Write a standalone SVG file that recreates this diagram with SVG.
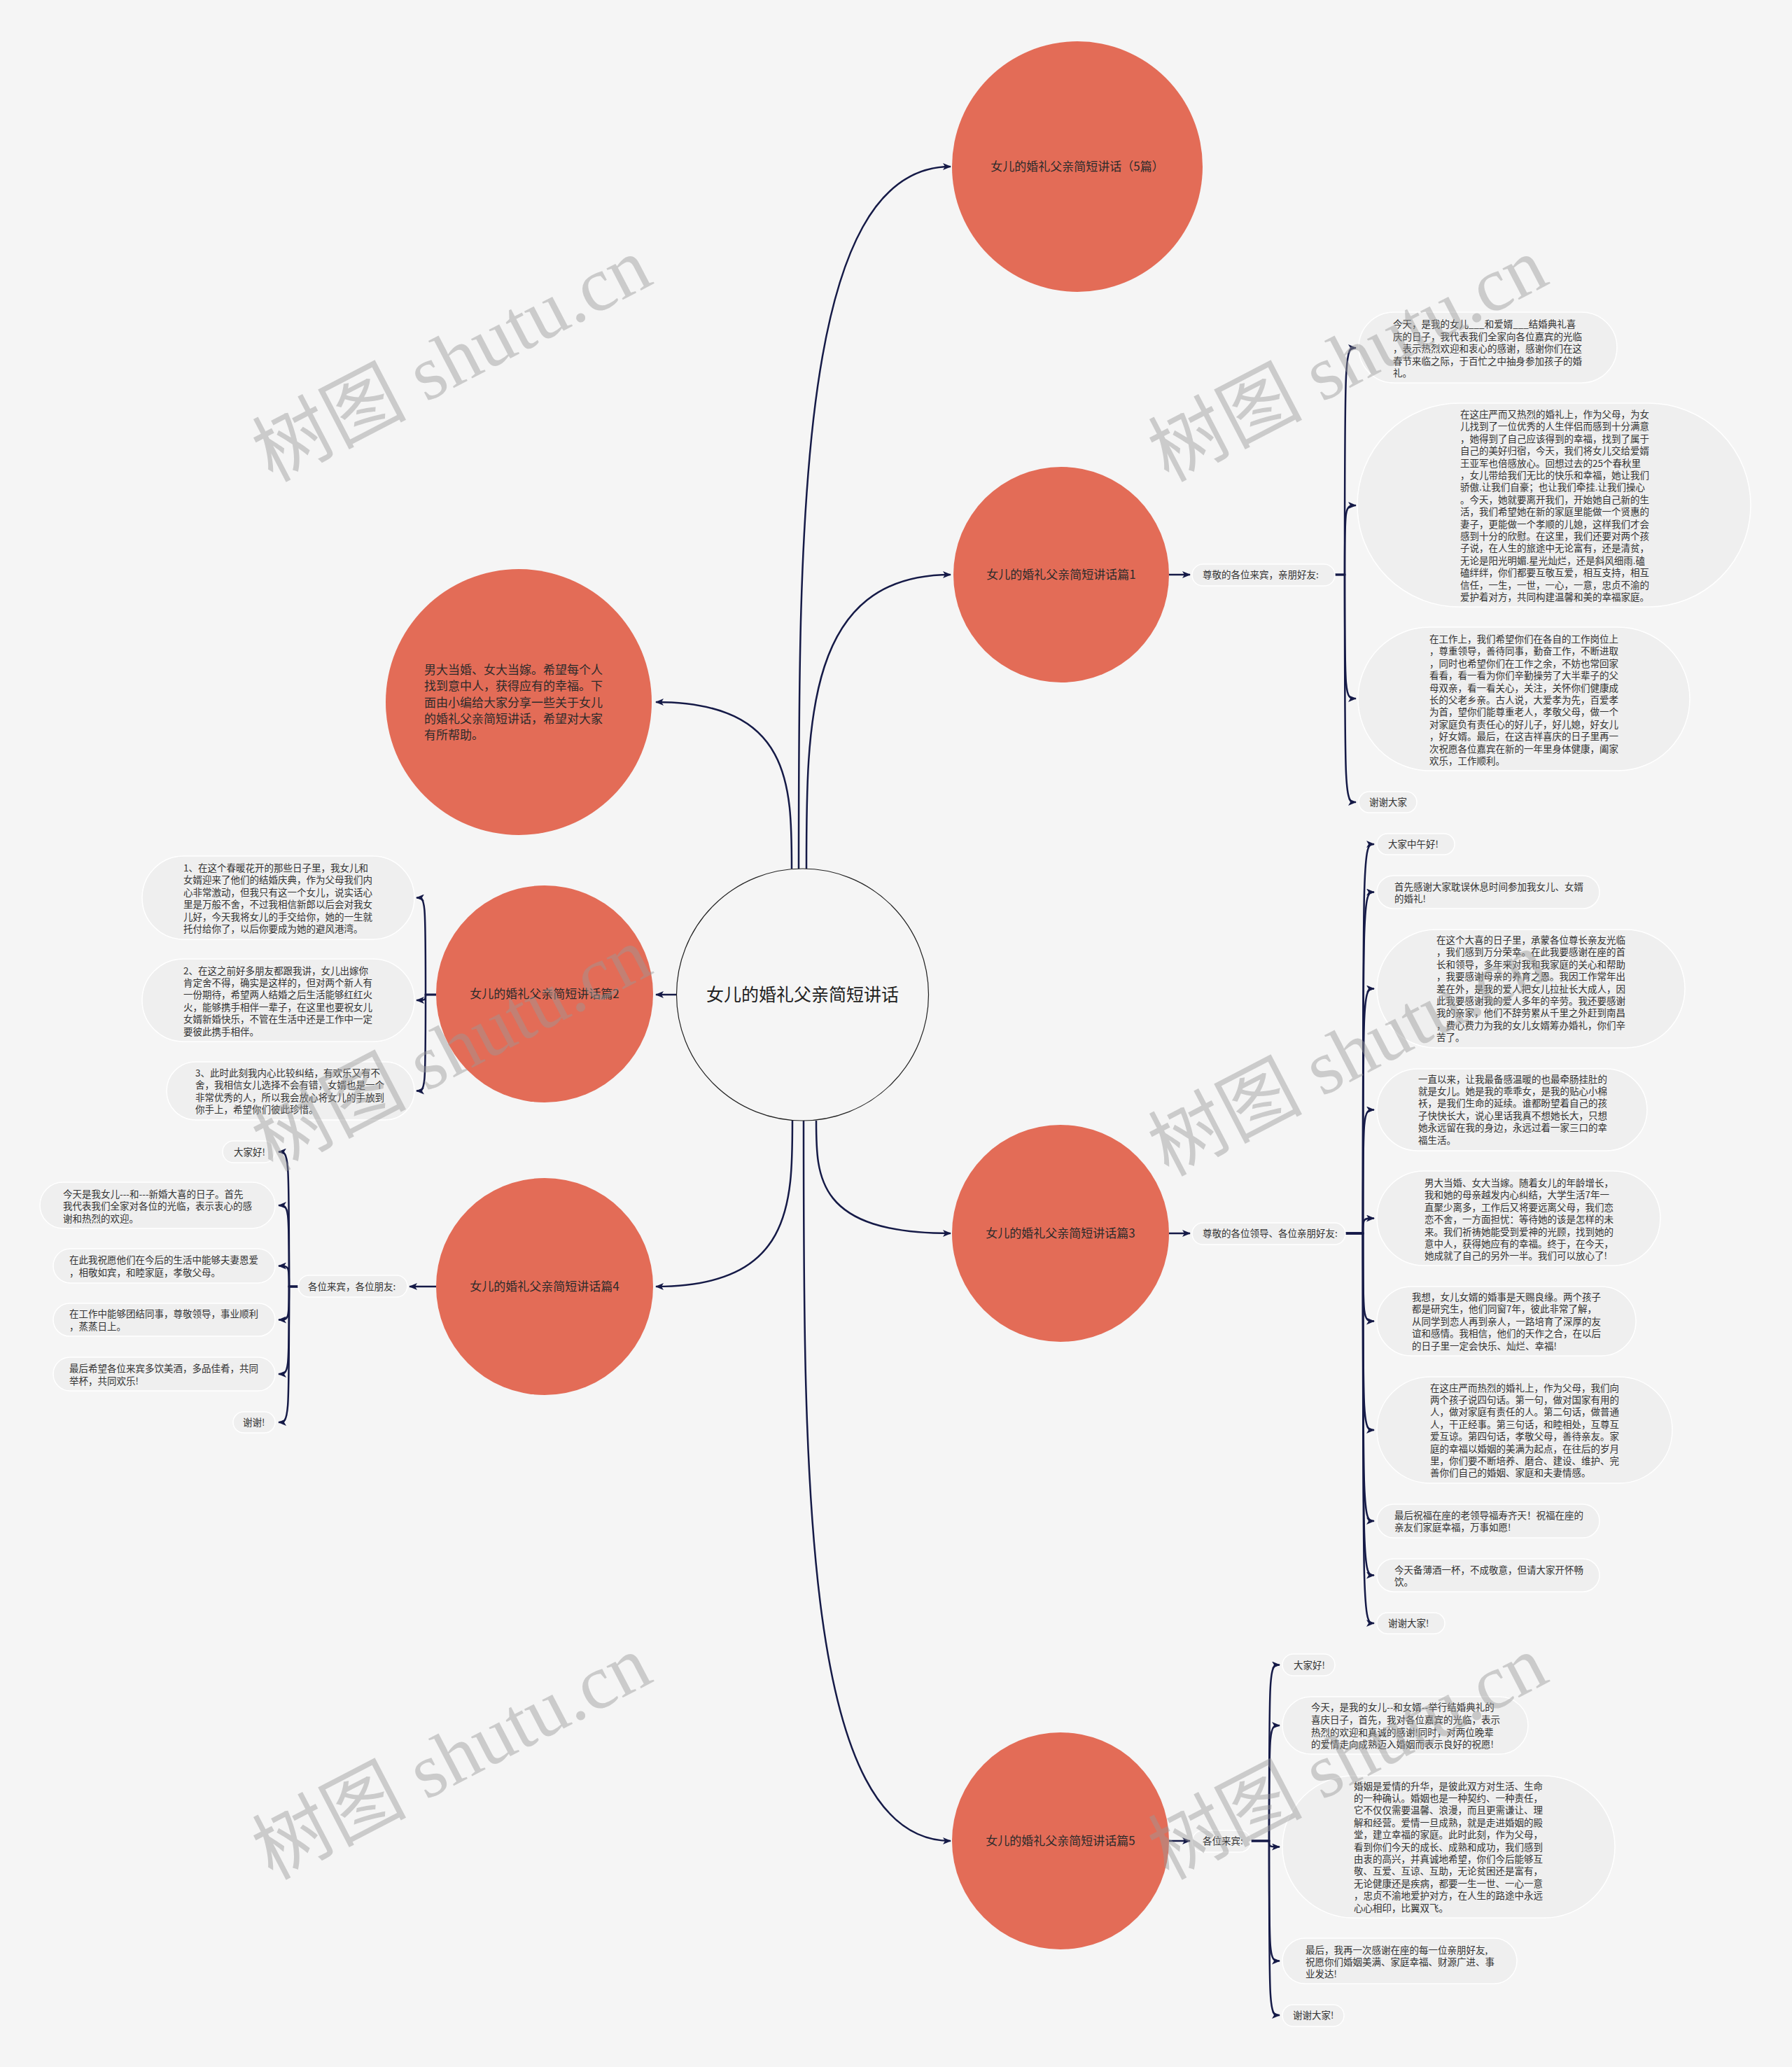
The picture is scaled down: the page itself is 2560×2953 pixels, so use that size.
<svg xmlns="http://www.w3.org/2000/svg" width="2560" height="2953" viewBox="0 0 2560 2953">
<style>
.bg{fill:#f5f5f5}
.c{fill:#e36c57}
.ct{font-family:"Noto Sans CJK SC","Liberation Sans",sans-serif;font-size:17px;fill:#2b2b2b}
.cm{text-anchor:middle}
.pill{fill:#efefef;stroke:#ffffff;stroke-width:1.5}
.lt{font-family:"Noto Sans CJK SC","Liberation Sans",sans-serif;font-size:13.5px;fill:#333333}
.cn{fill:none;stroke:#151a47;stroke-width:2.5}
.wm{font-family:"Liberation Serif","Noto Sans CJK SC",serif;font-size:110px;fill:#9a9a9a;fill-opacity:0.45;text-anchor:middle}
</style>
<defs>
<marker id="arr" viewBox="0 0 12 10" refX="11" refY="5" markerWidth="12" markerHeight="10" markerUnits="userSpaceOnUse" orient="auto">
<path d="M0,0 L12,5 L0,10 L3,5 Z" fill="#151a47"/>
</marker>
</defs>
<rect class="bg" x="0" y="0" width="2560" height="2953"/>

<g id="connectors">
<path class="cn" marker-end="url(#arr)" d="M1131,1241 C1131,1122 1131,1003 937,1003"/>
<path class="cn" marker-end="url(#arr)" d="M1141,1241 C1141,740 1141,238 1358,238"/>
<path class="cn" marker-end="url(#arr)" d="M1152,1241 C1152,1031 1152,821 1358,821"/>
<path class="cn" marker-end="url(#arr)" d="M966,1421 L937,1421"/>
<path class="cn" marker-end="url(#arr)" d="M1132,1601 C1132,1720 1132,1838 937,1838"/>
<path class="cn" marker-end="url(#arr)" d="M1148,1601 C1148,2116 1148,2630 1358,2630"/>
<path class="cn" marker-end="url(#arr)" d="M1166,1601 C1166,1682 1166,1762 1358,1762"/>
<path class="cn" marker-end="url(#arr)" d="M1670,821 L1700,821"/>
<path class="cn" marker-end="url(#arr)" d="M1670,1762 L1700,1762"/>
<path class="cn" marker-end="url(#arr)" d="M1670,2630 L1700,2630"/>
<path class="cn" marker-end="url(#arr)" d="M623,1838 L585,1838"/>
<!-- bracket 1 -->
<path class="cn" marker-end="url(#arr)" d="M1907,821 H1921 C1921,497 1921,497 1937,497"/>
<path class="cn" marker-end="url(#arr)" d="M1907,821 H1921 C1921,722 1921,722 1937,722"/>
<path class="cn" marker-end="url(#arr)" d="M1907,821 H1921 C1921,998 1921,998 1937,998"/>
<path class="cn" marker-end="url(#arr)" d="M1907,821 H1921 C1921,1146 1921,1146 1937,1146"/>
<!-- bracket 3 -->
<path class="cn" marker-end="url(#arr)" d="M1922,1762 H1947 C1947,1206 1947,1206 1963,1206"/>
<path class="cn" marker-end="url(#arr)" d="M1922,1762 H1947 C1947,1274.5 1947,1274.5 1963,1274.5"/>
<path class="cn" marker-end="url(#arr)" d="M1922,1762 H1947 C1947,1412.5 1947,1412.5 1963,1412.5"/>
<path class="cn" marker-end="url(#arr)" d="M1922,1762 H1947 C1947,1585.5 1947,1585.5 1963,1585.5"/>
<path class="cn" marker-end="url(#arr)" d="M1922,1762 H1947 C1947,1740.5 1947,1740.5 1963,1740.5"/>
<path class="cn" marker-end="url(#arr)" d="M1922,1762 H1947 C1947,1887.5 1947,1887.5 1963,1887.5"/>
<path class="cn" marker-end="url(#arr)" d="M1922,1762 H1947 C1947,2043 1947,2043 1963,2043"/>
<path class="cn" marker-end="url(#arr)" d="M1922,1762 H1947 C1947,2173 1947,2173 1963,2173"/>
<path class="cn" marker-end="url(#arr)" d="M1922,1762 H1947 C1947,2250.5 1947,2250.5 1963,2250.5"/>
<path class="cn" marker-end="url(#arr)" d="M1922,1762 H1947 C1947,2319 1947,2319 1963,2319"/>
<!-- bracket 5 -->
<path class="cn" marker-end="url(#arr)" d="M1787,2630 H1813 C1813,2378.5 1813,2378.5 1828,2378.5"/>
<path class="cn" marker-end="url(#arr)" d="M1787,2630 H1813 C1813,2465 1813,2465 1828,2465"/>
<path class="cn" marker-end="url(#arr)" d="M1787,2630 H1813 C1813,2638.5 1813,2638.5 1828,2638.5"/>
<path class="cn" marker-end="url(#arr)" d="M1787,2630 H1813 C1813,2801.5 1813,2801.5 1828,2801.5"/>
<path class="cn" marker-end="url(#arr)" d="M1787,2630 H1813 C1813,2879 1813,2879 1828,2879"/>
<!-- bracket 2 -->
<path class="cn" marker-end="url(#arr)" d="M623,1421 H608 C608,1282.5 608,1282.5 595,1282.5"/>
<path class="cn" marker-end="url(#arr)" d="M623,1421 H608 C608,1429 608,1429 595,1429"/>
<path class="cn" marker-end="url(#arr)" d="M623,1421 H608 C608,1558.5 608,1558.5 595,1558.5"/>
<!-- bracket 4 -->
<path class="cn" marker-end="url(#arr)" d="M426,1838 H413 C413,1645.5 413,1645.5 398,1645.5"/>
<path class="cn" marker-end="url(#arr)" d="M426,1838 H413 C413,1722 413,1722 398,1722"/>
<path class="cn" marker-end="url(#arr)" d="M426,1838 H413 C413,1808.5 413,1808.5 398,1808.5"/>
<path class="cn" marker-end="url(#arr)" d="M426,1838 H413 C413,1885.5 413,1885.5 398,1885.5"/>
<path class="cn" marker-end="url(#arr)" d="M426,1838 H413 C413,1963 413,1963 398,1963"/>
<path class="cn" marker-end="url(#arr)" d="M426,1838 H413 C413,2032 413,2032 398,2032"/>
</g>

<g id="center">
<circle cx="1146.5" cy="1421" r="180" fill="#f5f5f5" stroke="#222222" stroke-width="1.2"/>
<text class="ct cm" x="1146.5" y="1430" style="font-size:25px;fill:#222">女儿的婚礼父亲简短讲话</text>
</g>

<g id="intro">
<circle class="c" cx="741" cy="1003" r="190"/>
<text class="ct" x="606" y="963"><tspan x="606">男大当婚、女大当嫁。希望每个人</tspan><tspan x="606" dy="23.3">找到意中人，获得应有的幸福。下</tspan><tspan x="606" dy="23.3">面由小编给大家分享一些关于女儿</tspan><tspan x="606" dy="23.3">的婚礼父亲简短讲话，希望对大家</tspan><tspan x="606" dy="23.3">有所帮助。</tspan></text>
</g>

<g id="title5">
<circle class="c" cx="1539" cy="238" r="179"/>
<text class="ct cm" x="1539" y="244">女儿的婚礼父亲简短讲话（5篇）</text>
</g>

<g id="p1">
<circle class="c" cx="1516" cy="821" r="154"/>
<text class="ct cm" x="1516" y="827">女儿的婚礼父亲简短讲话篇1</text>
</g>
<g id="p1-label">
<rect class="pill" x="1703" y="806" width="204" height="31" rx="15.5"/>
<text class="lt" x="1718" y="826">尊敬的各位来宾，亲朋好友:</text>
</g>
<g id="p1-l1">
<rect class="pill" x="1941" y="446" width="369" height="101" rx="50.5"/>
<text class="lt" x="1990" y="468"><tspan x="1990">今天，是我的女儿___和爱婿___结婚典礼喜</tspan><tspan x="1990" dy="17.5">庆的日子，我代表我们全家向各位嘉宾的光临</tspan><tspan x="1990" dy="17.5">，表示热烈欢迎和衷心的感谢，感谢你们在这</tspan><tspan x="1990" dy="17.5">春节来临之际，于百忙之中抽身参加孩子的婚</tspan><tspan x="1990" dy="17.5">礼。</tspan></text>
</g>
<g id="p1-l2">
<rect class="pill" x="1939" y="576" width="562" height="291" rx="145.5"/>
<text class="lt" x="2086" y="597"><tspan x="2086">在这庄严而又热烈的婚礼上，作为父母，为女</tspan><tspan x="2086" dy="17.4">儿找到了一位优秀的人生伴侣而感到十分满意</tspan><tspan x="2086" dy="17.4">，她得到了自己应该得到的幸福，找到了属于</tspan><tspan x="2086" dy="17.4">自己的美好归宿，今天，我们将女儿交给爱婿</tspan><tspan x="2086" dy="17.4">王亚军也倍感放心。回想过去的25个春秋里</tspan><tspan x="2086" dy="17.4">，女儿带给我们无比的快乐和幸福，她让我们</tspan><tspan x="2086" dy="17.4">骄傲.让我们自豪；也让我们牵挂.让我们操心</tspan><tspan x="2086" dy="17.4">。今天，她就要离开我们，开始她自己新的生</tspan><tspan x="2086" dy="17.4">活，我们希望她在新的家庭里能做一个贤惠的</tspan><tspan x="2086" dy="17.4">妻子，更能做一个孝顺的儿媳，这样我们才会</tspan><tspan x="2086" dy="17.4">感到十分的欣慰。在这里，我们还要对两个孩</tspan><tspan x="2086" dy="17.4">子说，在人生的旅途中无论富有，还是清贫，</tspan><tspan x="2086" dy="17.4">无论是阳光明媚.星光灿烂，还是斜风细雨.磕</tspan><tspan x="2086" dy="17.4">磕绊绊，你们都要互敬互爱，相互支持，相互</tspan><tspan x="2086" dy="17.4">信任，一生，一世，一心，一意，忠贞不渝的</tspan><tspan x="2086" dy="17.4">爱护着对方，共同构建温馨和美的幸福家庭。</tspan></text>
</g>
<g id="p1-l3">
<rect class="pill" x="1940" y="896" width="474" height="205" rx="102.5"/>
<text class="lt" x="2042" y="918"><tspan x="2042">在工作上，我们希望你们在各自的工作岗位上</tspan><tspan x="2042" dy="17.4">，尊重领导，善待同事，勤奋工作，不断进取</tspan><tspan x="2042" dy="17.4">，同时也希望你们在工作之余，不妨也常回家</tspan><tspan x="2042" dy="17.4">看看，看一看为你们辛勤操劳了大半辈子的父</tspan><tspan x="2042" dy="17.4">母双亲，看一看关心，关注，关怀你们健康成</tspan><tspan x="2042" dy="17.4">长的父老乡亲。古人说，大爱孝为先，百爱孝</tspan><tspan x="2042" dy="17.4">为首，望你们能尊重老人，孝敬父母，做一个</tspan><tspan x="2042" dy="17.4">对家庭负有责任心的好儿子，好儿媳，好女儿</tspan><tspan x="2042" dy="17.4">，好女婿。最后，在这吉祥喜庆的日子里再一</tspan><tspan x="2042" dy="17.4">次祝愿各位嘉宾在新的一年里身体健康，阖家</tspan><tspan x="2042" dy="17.4">欢乐，工作顺利。</tspan></text>
</g>
<g id="p1-l4">
<rect class="pill" x="1941" y="1131" width="83" height="30" rx="15"/>
<text class="lt" x="1956" y="1151">谢谢大家</text>
</g>

<g id="p2">
<circle class="c" cx="778" cy="1420" r="155"/>
<text class="ct cm" x="778" y="1426">女儿的婚礼父亲简短讲话篇2</text>
</g>
<g id="p2-l1">
<rect class="pill" x="203" y="1223" width="389" height="119" rx="59.5"/>
<text class="lt" x="262" y="1245"><tspan x="262">1、在这个春暖花开的那些日子里，我女儿和</tspan><tspan x="262" dy="17.4">女婿迎来了他们的结婚庆典，作为父母我们内</tspan><tspan x="262" dy="17.4">心非常激动，但我只有这一个女儿，说实话心</tspan><tspan x="262" dy="17.4">里是万般不舍，不过我相信新郎以后会对我女</tspan><tspan x="262" dy="17.4">儿好，今天我将女儿的手交给你，她的一生就</tspan><tspan x="262" dy="17.4">托付给你了，以后你要成为她的避风港湾。</tspan></text>
</g>
<g id="p2-l2">
<rect class="pill" x="203" y="1370" width="389" height="118" rx="59"/>
<text class="lt" x="262" y="1391.5"><tspan x="262">2、在这之前好多朋友都跟我讲，女儿出嫁你</tspan><tspan x="262" dy="17.4">肯定舍不得，确实是这样的，但对两个新人有</tspan><tspan x="262" dy="17.4">一份期待，希望两人结婚之后生活能够红红火</tspan><tspan x="262" dy="17.4">火，能够携手相伴一辈子，在这里也要祝女儿</tspan><tspan x="262" dy="17.4">女婿新婚快乐，不管在生活中还是工作中一定</tspan><tspan x="262" dy="17.4">要彼此携手相伴。</tspan></text>
</g>
<g id="p2-l3">
<rect class="pill" x="238" y="1517" width="354" height="83" rx="41.5"/>
<text class="lt" x="279" y="1538"><tspan x="279">3、此时此刻我内心比较纠结，有欢乐又有不</tspan><tspan x="279" dy="17.4">舍，我相信女儿选择不会有错，女婿也是一个</tspan><tspan x="279" dy="17.4">非常优秀的人，所以我会放心将女儿的手放到</tspan><tspan x="279" dy="17.4">你手上，希望你们彼此珍惜。</tspan></text>
</g>

<g id="p3">
<circle class="c" cx="1515" cy="1762" r="155"/>
<text class="ct cm" x="1515" y="1768">女儿的婚礼父亲简短讲话篇3</text>
</g>
<g id="p3-label">
<rect class="pill" x="1703" y="1747" width="219" height="31" rx="15.5"/>
<text class="lt" x="1718" y="1767">尊敬的各位领导、各位亲朋好友:</text>
</g>
<g id="p3-l1">
<rect class="pill" x="1967" y="1191" width="111" height="30" rx="15"/>
<text class="lt" x="1983" y="1211">大家中午好!</text>
</g>
<g id="p3-l2">
<rect class="pill" x="1967" y="1251" width="318" height="47" rx="23.5"/>
<text class="lt" x="1992" y="1272"><tspan x="1992">首先感谢大家耽误休息时间参加我女儿、女婿</tspan><tspan x="1992" dy="17.4">的婚礼!</tspan></text>
</g>
<g id="p3-l3">
<rect class="pill" x="1967" y="1328" width="440" height="169" rx="84.5"/>
<text class="lt" x="2052" y="1348"><tspan x="2052">在这个大喜的日子里，承蒙各位尊长亲友光临</tspan><tspan x="2052" dy="17.4">，我们感到万分荣幸。在此我要感谢在座的首</tspan><tspan x="2052" dy="17.4">长和领导，多年来对我和我家庭的关心和帮助</tspan><tspan x="2052" dy="17.4">，我要感谢母亲的养育之恩。我因工作常年出</tspan><tspan x="2052" dy="17.4">差在外，是我的爱人把女儿拉扯长大成人，因</tspan><tspan x="2052" dy="17.4">此我要感谢我的爱人多年的辛劳。我还要感谢</tspan><tspan x="2052" dy="17.4">我的亲家，他们不辞劳累从千里之外赶到南昌</tspan><tspan x="2052" dy="17.4">，费心费力为我的女儿女婿筹办婚礼，你们辛</tspan><tspan x="2052" dy="17.4">苦了。</tspan></text>
</g>
<g id="p3-l4">
<rect class="pill" x="1967" y="1527" width="386" height="117" rx="58.5"/>
<text class="lt" x="2026" y="1546.5"><tspan x="2026">一直以来，让我最备感温暖的也最牵肠挂肚的</tspan><tspan x="2026" dy="17.4">就是女儿。她是我的乖乖女，是我的贴心小棉</tspan><tspan x="2026" dy="17.4">袄，是我们生命的延续。谁都盼望着自己的孩</tspan><tspan x="2026" dy="17.4">子快快长大，说心里话我真不想她长大，只想</tspan><tspan x="2026" dy="17.4">她永远留在我的身边，永远过着一家三口的幸</tspan><tspan x="2026" dy="17.4">福生活。</tspan></text>
</g>
<g id="p3-l5">
<rect class="pill" x="1967" y="1673" width="405" height="135" rx="67.5"/>
<text class="lt" x="2035" y="1695"><tspan x="2035">男大当婚、女大当嫁。随着女儿的年龄增长，</tspan><tspan x="2035" dy="17.4">我和她的母亲越发内心纠结，大学生活7年一</tspan><tspan x="2035" dy="17.4">直聚少离多，工作后又将要远离父母，我们恋</tspan><tspan x="2035" dy="17.4">恋不舍，一方面担忧：等待她的该是怎样的未</tspan><tspan x="2035" dy="17.4">来。我们祈祷她能受到爱神的光顾，找到她的</tspan><tspan x="2035" dy="17.4">意中人，获得她应有的幸福。终于，在今天，</tspan><tspan x="2035" dy="17.4">她成就了自己的另外一半。我们可以放心了!</tspan></text>
</g>
<g id="p3-l6">
<rect class="pill" x="1967" y="1838" width="370" height="99" rx="49.5"/>
<text class="lt" x="2017" y="1858"><tspan x="2017">我想，女儿女婿的婚事是天赐良缘。两个孩子</tspan><tspan x="2017" dy="17.4">都是研究生，他们同窗7年，彼此非常了解，</tspan><tspan x="2017" dy="17.4">从同学到恋人再到亲人，一路培育了深厚的友</tspan><tspan x="2017" dy="17.4">谊和感情。我相信，他们的天作之合，在以后</tspan><tspan x="2017" dy="17.4">的日子里一定会快乐、灿烂、幸福!</tspan></text>
</g>
<g id="p3-l7">
<rect class="pill" x="1967" y="1967" width="422" height="152" rx="76"/>
<text class="lt" x="2043" y="1987.5"><tspan x="2043">在这庄严而热烈的婚礼上，作为父母，我们向</tspan><tspan x="2043" dy="17.4">两个孩子说四句话。第一句，做对国家有用的</tspan><tspan x="2043" dy="17.4">人，做对家庭有责任的人。第二句话，做普通</tspan><tspan x="2043" dy="17.4">人，干正经事。第三句话，和睦相处，互尊互</tspan><tspan x="2043" dy="17.4">爱互谅。第四句话，孝敬父母，善待亲友。家</tspan><tspan x="2043" dy="17.4">庭的幸福以婚姻的美满为起点，在往后的岁月</tspan><tspan x="2043" dy="17.4">里，你们要不断培养、磨合、建设、维护、完</tspan><tspan x="2043" dy="17.4">善你们自己的婚姻、家庭和夫妻情感。</tspan></text>
</g>
<g id="p3-l8">
<rect class="pill" x="1967" y="2149" width="318" height="48" rx="24"/>
<text class="lt" x="1992" y="2170"><tspan x="1992">最后祝福在座的老领导福寿齐天！祝福在座的</tspan><tspan x="1992" dy="17.4">亲友们家庭幸福，万事如愿!</tspan></text>
</g>
<g id="p3-l9">
<rect class="pill" x="1967" y="2227" width="318" height="47" rx="23.5"/>
<text class="lt" x="1992" y="2247.5"><tspan x="1992">今天备薄酒一杯，不成敬意，但请大家开怀畅</tspan><tspan x="1992" dy="17.4">饮。</tspan></text>
</g>
<g id="p3-l10">
<rect class="pill" x="1967" y="2304" width="97" height="30" rx="15"/>
<text class="lt" x="1983" y="2324">谢谢大家!</text>
</g>

<g id="p4">
<circle class="c" cx="778" cy="1838" r="155"/>
<text class="ct cm" x="778" y="1844">女儿的婚礼父亲简短讲话篇4</text>
</g>
<g id="p4-label">
<rect class="pill" x="426" y="1822" width="156" height="31" rx="15.5"/>
<text class="lt" x="440" y="1842.5">各位来宾，各位朋友:</text>
</g>
<g id="p4-l1">
<rect class="pill" x="318" y="1630" width="75" height="31" rx="15.5"/>
<text class="lt" x="334" y="1650.5">大家好!</text>
</g>
<g id="p4-l2">
<rect class="pill" x="57" y="1689" width="336" height="66" rx="33"/>
<text class="lt" x="90" y="1711"><tspan x="90">今天是我女儿---和---新婚大喜的日子。首先</tspan><tspan x="90" dy="17.4">我代表我们全家对各位的光临，表示衷心的感</tspan><tspan x="90" dy="17.4">谢和热烈的欢迎。</tspan></text>
</g>
<g id="p4-l3">
<rect class="pill" x="76" y="1784" width="317" height="49" rx="24.5"/>
<text class="lt" x="99" y="1805"><tspan x="99">在此我祝愿他们在今后的生活中能够夫妻恩爱</tspan><tspan x="99" dy="17.6">，相敬如宾，和睦家庭，孝敬父母。</tspan></text>
</g>
<g id="p4-l4">
<rect class="pill" x="76" y="1862" width="317" height="47" rx="23.5"/>
<text class="lt" x="99" y="1882"><tspan x="99">在工作中能够团结同事，尊敬领导，事业顺利</tspan><tspan x="99" dy="17.6">，蒸蒸日上。</tspan></text>
</g>
<g id="p4-l5">
<rect class="pill" x="76" y="1939" width="317" height="48" rx="24"/>
<text class="lt" x="99" y="1960"><tspan x="99">最后希望各位来宾多饮美酒，多品佳肴，共同</tspan><tspan x="99" dy="17.6">举杯，共同欢乐!</tspan></text>
</g>
<g id="p4-l6">
<rect class="pill" x="333" y="2017" width="60" height="30" rx="15"/>
<text class="lt" x="347" y="2037">谢谢!</text>
</g>

<g id="p5">
<circle class="c" cx="1515" cy="2630" r="155"/>
<text class="ct cm" x="1515" y="2636">女儿的婚礼父亲简短讲话篇5</text>
</g>
<g id="p5-label">
<rect class="pill" x="1703" y="2615" width="84" height="31" rx="15.5"/>
<text class="lt" x="1718" y="2635">各位来宾:</text>
</g>
<g id="p5-l1">
<rect class="pill" x="1832" y="2363" width="75" height="31" rx="15.5"/>
<text class="lt" x="1848" y="2383.5">大家好!</text>
</g>
<g id="p5-l2">
<rect class="pill" x="1832" y="2424" width="351" height="82" rx="41"/>
<text class="lt" x="1873" y="2444"><tspan x="1873">今天，是我的女儿--和女婿--举行结婚典礼的</tspan><tspan x="1873" dy="17.8">喜庆日子，首先，我对各位嘉宾的光临，表示</tspan><tspan x="1873" dy="17.8">热烈的欢迎和真诚的感谢!同时，对两位晚辈</tspan><tspan x="1873" dy="17.8">的爱情走向成熟迈入婚姻而表示良好的祝愿!</tspan></text>
</g>
<g id="p5-l3">
<rect class="pill" x="1832" y="2537" width="475" height="203" rx="101.5"/>
<text class="lt" x="1934" y="2556.5"><tspan x="1934">婚姻是爱情的升华，是彼此双方对生活、生命</tspan><tspan x="1934" dy="17.4">的一种确认。婚姻也是一种契约、一种责任，</tspan><tspan x="1934" dy="17.4">它不仅仅需要温馨、浪漫，而且更需谦让、理</tspan><tspan x="1934" dy="17.4">解和经营。爱情一旦成熟，就是走进婚姻的殿</tspan><tspan x="1934" dy="17.4">堂，建立幸福的家庭。此时此刻，作为父母，</tspan><tspan x="1934" dy="17.4">看到你们今天的成长、成熟和成功，我们感到</tspan><tspan x="1934" dy="17.4">由衷的高兴，并真诚地希望，你们今后能够互</tspan><tspan x="1934" dy="17.4">敬、互爱、互谅、互助，无论贫困还是富有，</tspan><tspan x="1934" dy="17.4">无论健康还是疾病，都要一生一世、一心一意</tspan><tspan x="1934" dy="17.4">，忠贞不渝地爱护对方，在人生的路途中永远</tspan><tspan x="1934" dy="17.4">心心相印，比翼双飞。</tspan></text>
</g>
<g id="p5-l4">
<rect class="pill" x="1832" y="2769" width="335" height="65" rx="32.5"/>
<text class="lt" x="1865" y="2790.5"><tspan x="1865">最后，我再一次感谢在座的每一位亲朋好友,</tspan><tspan x="1865" dy="17.4">祝愿你们婚姻美满、家庭幸福、财源广进、事</tspan><tspan x="1865" dy="17.4">业发达!</tspan></text>
</g>
<g id="p5-l5">
<rect class="pill" x="1832" y="2864" width="88" height="31" rx="15.5"/>
<text class="lt" x="1847" y="2884">谢谢大家!</text>
</g>

<g id="watermarks">
<text class="wm" transform="translate(645,513) rotate(-27.5)" x="0" y="38">树图 shutu.cn</text>
<text class="wm" transform="translate(1925,513) rotate(-27.5)" x="0" y="38">树图 shutu.cn</text>
<text class="wm" transform="translate(645,1498) rotate(-27.5)" x="0" y="38">树图 shutu.cn</text>
<text class="wm" transform="translate(1925,1505) rotate(-27.5)" x="0" y="38">树图 shutu.cn</text>
<text class="wm" transform="translate(645,2510) rotate(-27.5)" x="0" y="38">树图 shutu.cn</text>
<text class="wm" transform="translate(1925,2510) rotate(-27.5)" x="0" y="38">树图 shutu.cn</text>
</g>
</svg>
